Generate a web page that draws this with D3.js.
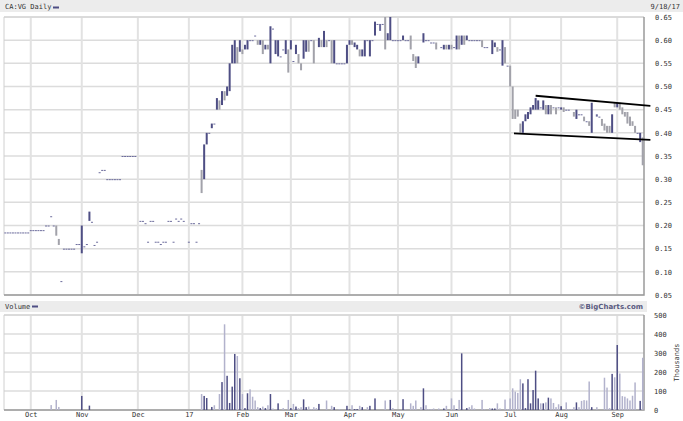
<!DOCTYPE html>
<html>
<head>
<meta charset="utf-8">
<script src="https://cdn.jsdelivr.net/npm/d3@7"></script>
<style>
  body { margin: 0; background: #fff; }
  text { font-family: "DejaVu Sans Mono", monospace; font-size: 7px; fill: #333; }
</style>
</head>
<body>
<script>
// month ticks, in trading-day index (day 0 = 9/19/16, day 250 = 9/18/17)
var monthLabels = ["Oct", "Nov", "Dec", "17", "Feb", "Mar", "Apr", "May", "Jun", "Jul", "Aug", "Sep"];
var monthDays = [10, 30, 52, 72, 93, 112, 135, 154, 175, 198, 218, 240];

var priceTicks = [0.05, 0.10, 0.15, 0.20, 0.25, 0.30, 0.35, 0.40, 0.45, 0.50, 0.55, 0.60, 0.65];
var volumeTicks = [0, 100, 200, 300, 400, 500];

// [day, open, high, low, close]  or [day, price] when the day traded flat
var ohlc = [
  [0, .185], [1, .185], [2, .185], [3, .185], [4, .185], [5, .185], [6, .185], [7, .185], [8, .185], [9, .185],
  [10, .19], [11, .19], [12, .19], [13, .19], [14, .19], [15, .19],
  [16, .20], [17, .20], [18, .22], [19, .20],
  [20, .20, .20, .178, .178], [21, .171, .171, .158, .158], [22, .08],
  [23, .15], [24, .15], [25, .15], [26, .15], [27, .15],
  [28, .16], [29, .16], [30, .16, .20, .14, .20], [31, .155], [32, .16],
  [33, .21, .23, .21, .23], [34, .208], [35, .158], [36, .165],
  [37, .315], [38, .32], [39, .32], [40, .30], [41, .30], [42, .30], [43, .30], [44, .30], [45, .30],
  [46, .35], [47, .35], [48, .35], [49, .35], [50, .35], [51, .35],
  [53, .21], [54, .21], [55, .205], [56, .165], [57, .21], [58, .21], [59, .165], [60, .165], [61, .16],
  [62, .165], [63, .165], [64, .21], [65, .21], [66, .165], [67, .215], [68, .21], [69, .215], [70, .21],
  [72, .165], [73, .205], [74, .205], [75, .165], [76, .205],
  [77, .32, .32, .27, .28], [78, .30, .375, .30, .37], [79, .375, .40, .375, .40], [80, .40],
  [81, .41, .42, .41, .42], [82, .42],
  [83, .45, .475, .45, .47], [84, .46, .47, .45, .455], [85, .46, .49, .46, .49], [86, .49, .49, .47, .48],
  [87, .48, .50, .48, .50], [88, .50, .55, .49, .55], [89, .55, .59, .55, .58], [90, .58, .60, .55, .59],
  [91, .585, .585, .55, .555], [92, .575, .60, .575, .60], [93, .58, .58, .57, .575], [94, .58, .59, .58, .59],
  [95, .59, .60, .58, .60], [96, .60], [97, .60], [98, .61], [99, .60, .60, .59, .59], [100, .59, .60, .59, .60],
  [101, .60, .60, .57, .57], [102, .58, .59, .58, .59], [103, .59, .59, .58, .58], [104, .56, .63, .55, .62],
  [105, .625], [106, .57, .60, .57, .60], [107, .57, .60, .565, .58], [108, .565], [109, .58],
  [110, .57, .60, .57, .60], [111, .58, .58, .53, .54], [112, .58, .60, .58, .60], [113, .555],
  [114, .57, .59, .57, .59], [115, .57, .57, .55, .55], [116, .55, .55, .535, .54], [117, .56, .60, .56, .60],
  [118, .575, .60, .575, .60], [119, .60, .60, .575, .58], [120, .60], [121, .60, .60, .55, .55],
  [123, .585, .605, .585, .60], [124, .60, .60, .585, .59], [125, .585, .62, .585, .615], [126, .60, .60, .585, .59],
  [127, .60], [128, .60, .60, .55, .56], [129, .55, .60, .55, .60], [130, .55], [131, .55], [132, .55], [133, .55],
  [134, .55, .59, .55, .59], [135, .595, .60, .59, .60], [136, .60, .60, .59, .595], [137, .585, .595, .585, .59],
  [138, .58, .59, .58, .59], [139, .58, .58, .565, .565], [140, .565, .58, .565, .575], [141, .565, .60, .565, .60],
  [142, .60], [143, .565, .60, .565, .60], [144, .60], [145, .61, .64, .61, .64], [146, .635],
  [147, .63, .635, .62, .63], [148, .635], [149, .65, .65, .58, .59], [150, .60, .615, .60, .61],
  [151, .60, .65, .60, .64], [152, .60], [153, .60], [154, .60], [155, .60], [156, .60, .61, .60, .61],
  [157, .60], [158, .60], [159, .61, .61, .58, .585], [160, .57, .57, .555, .56], [161, .565, .565, .54, .545],
  [162, .55, .565, .55, .565], [164, .595, .615, .595, .615], [165, .60], [166, .60], [167, .595], [168, .595],
  [169, .595, .595, .58, .58], [171, .585], [172, .58, .59, .58, .59], [173, .59, .59, .58, .58],
  [174, .58, .59, .58, .585], [175, .59, .59, .58, .58], [176, .585], [177, .58, .61, .58, .61],
  [178, .61, .61, .58, .59], [179, .59, .61, .59, .605], [180, .61, .61, .59, .60], [181, .60, .61, .60, .61],
  [182, .60], [183, .60], [184, .60], [185, .60], [186, .60], [187, .60, .60, .585, .59], [188, .585], [189, .585],
  [191, .57, .60, .57, .60], [192, .585, .595, .585, .59], [193, .585, .585, .575, .575], [194, .58],
  [195, .55, .60, .545, .595], [196, .585, .585, .55, .55], [197, .545], [198, .545, .545, .50, .50],
  [199, .50, .50, .43, .43], [200, .45, .45, .43, .435], [201, .45, .45, .435, .44], [202, .42, .42, .40, .40],
  [203, .40, .425, .40, .42], [204, .425, .44, .425, .44], [205, .43, .445, .43, .445], [206, .44, .455, .44, .455],
  [207, .45, .46, .45, .46], [208, .45, .475, .45, .47], [209, .45, .47, .45, .465], [210, .455],
  [211, .45, .47, .45, .47], [212, .46, .46, .44, .445], [213, .44, .46, .44, .455], [214, .455, .46, .44, .45],
  [215, .455], [216, .455, .455, .44, .45], [217, .455], [218, .45, .455, .45, .455], [219, .455, .455, .445, .45],
  [220, .45], [221, .45], [223, .445, .445, .435, .435], [224, .43, .45, .43, .45], [225, .44], [226, .44],
  [227, .435, .435, .425, .425], [228, .425], [229, .425, .425, .415, .415], [230, .40, .465, .40, .46],
  [232, .44, .44, .435, .44], [233, .435], [234, .43, .43, .415, .415], [235, .42, .42, .405, .405],
  [236, .415, .415, .40, .40], [237, .41, .415, .40, .40], [238, .40, .44, .40, .44], [239, .46, .465, .455, .455],
  [240, .455, .465, .455, .465], [241, .465, .465, .45, .45], [242, .455, .455, .44, .44], [243, .445, .445, .435, .44],
  [244, .445, .445, .42, .42], [245, .435, .435, .415, .415], [246, .425, .425, .415, .415], [247, .415, .415, .40, .40],
  [248, .40], [249, .38, .40, .38, .40], [250, .39, .39, .33, .33]
];

// [day, volume in thousands]
var volume = [
  [18, 26], [20, 53], [21, 16], [30, 74], [33, 23],
  [77, 84], [78, 74], [79, 63], [81, 16], [82, 25], [84, 84], [85, 147], [86, 451], [87, 180], [88, 37],
  [89, 123], [90, 295], [91, 284], [92, 167], [93, 84], [94, 10], [95, 88], [96, 109], [97, 70], [98, 50],
  [99, 15], [100, 10], [101, 18], [102, 10], [103, 25], [104, 84], [105, 8], [107, 35], [109, 10], [111, 53],
  [112, 10], [113, 32], [114, 18], [115, 10], [116, 15], [117, 56], [118, 15], [119, 18], [120, 5], [121, 15],
  [122, 10], [123, 32], [126, 50], [128, 22], [129, 15], [131, 5], [134, 22], [135, 3], [136, 25], [137, 5],
  [138, 5], [139, 22], [140, 15], [142, 15], [143, 22], [145, 61], [149, 50], [151, 53], [152, 10], [156, 57],
  [157, 5], [159, 35], [160, 22], [161, 50], [163, 15], [164, 114], [165, 25], [166, 5], [167, 5], [168, 8],
  [170, 8], [172, 8], [173, 22], [175, 61], [176, 25], [177, 5], [178, 53], [179, 298], [180, 5], [181, 10],
  [182, 15], [183, 25], [184, 8], [187, 53], [188, 5], [190, 10], [191, 8], [192, 8], [193, 35], [194, 8],
  [196, 55], [197, 5], [198, 61], [199, 114], [200, 97], [201, 90], [202, 162], [203, 140], [204, 10],
  [205, 162], [206, 35], [207, 105], [208, 207], [209, 61], [210, 35], [211, 35], [212, 40], [213, 65],
  [214, 61], [215, 37], [216, 15], [217, 30], [218, 20], [220, 40], [221, 5], [222, 5], [223, 15], [224, 40],
  [225, 15], [226, 48], [227, 52], [228, 50], [229, 150], [230, 15], [232, 15], [235, 170], [236, 118],
  [237, 10], [238, 190], [239, 172], [240, 342], [241, 192], [242, 73], [243, 70], [244, 61], [245, 50],
  [246, 75], [247, 145], [249, 48], [250, 275]
];

// hand drawn trend channel [day, price]
var channelTop = [[208, 0.48], [253, 0.458]];
var channelBottom = [[199.5, 0.399], [253, 0.385]];

var width = 683, height = 421,
    left = 4, right = 644,
    pTop = 17, pBot = 295,
    vTop = 315, vBot = 410;

var navy = "#4e4e84", lilac = "#b2b2cc", grey = "#a2a2aa";

var svg = d3.select("body").append("svg")
    .attr("width", width)
    .attr("height", height);

var x = d3.scaleLinear().domain([-0.5, 250.5]).range([left, right]);
var y = d3.scaleLinear().domain([0.05, 0.65]).range([pBot, pTop]);
var yv = d3.scaleLinear().domain([0, 500]).range([vBot, vTop]);

var bars = ohlc.map(function(r) {
    if (r.length == 2) return { d: r[0], o: r[1], h: r[1], l: r[1], c: r[1] };
    return { d: r[0], o: r[1], h: r[2], l: r[3], c: r[4] };
});
var byDay = {};
bars.forEach(function(b) { byDay[b.d] = b; });

// title bands
svg.append("rect").attr("x", 0).attr("y", 0).attr("width", width).attr("height", 12).attr("fill", "#ececec");
svg.append("text").attr("x", 5).attr("y", 9).text("CA:VG Daily");
svg.append("rect").attr("x", 53).attr("y", 6.5).attr("width", 6).attr("height", 2).attr("fill", navy);
svg.append("text").attr("x", 680).attr("y", 9).attr("text-anchor", "end").text("9/18/17");

svg.append("rect").attr("x", 0).attr("y", 301).attr("width", 647).attr("height", 11).attr("fill", "#ececec");
svg.append("text").attr("x", 5).attr("y", 309).text("Volume");
svg.append("rect").attr("x", 32).attr("y", 305.5).attr("width", 6).attr("height", 2).attr("fill", navy);
svg.append("text").attr("x", 643).attr("y", 309).attr("text-anchor", "end")
    .style("font-family", "'DejaVu Sans', sans-serif").style("font-weight", "bold")
    .style("fill", "#5a5a80").text("\u00a9BigCharts.com");

// grids
var grid = svg.append("g");
grid.selectAll(".hp").data(priceTicks).enter().append("line")
    .attr("x1", left).attr("x2", right)
    .attr("y1", function(d) { return y(d); }).attr("y2", function(d) { return y(d); })
    .attr("stroke", "#dcdcdc").attr("stroke-width", 1.5);
grid.selectAll(".hv").data(volumeTicks).enter().append("line")
    .attr("x1", left).attr("x2", right)
    .attr("y1", function(d) { return yv(d); }).attr("y2", function(d) { return yv(d); })
    .attr("stroke", "#dcdcdc").attr("stroke-width", 1.5);
[[pTop, pBot], [vTop, vBot]].forEach(function(span) {
    grid.selectAll(null).data(monthDays).enter().append("line")
        .attr("x1", function(d) { return x(d); }).attr("x2", function(d) { return x(d); })
        .attr("y1", span[0]).attr("y2", span[1])
        .attr("stroke", "#e2e2e2").attr("stroke-width", 2);
});

// frames
[[pTop, pBot], [vTop, vBot]].forEach(function(span) {
    svg.append("path")
        .attr("d", "M" + left + "," + span[1] + "V" + span[0] + "H" + right)
        .attr("fill", "none").attr("stroke", "#d0d0d0");
    svg.append("path")
        .attr("d", "M" + left + "," + span[1] + "H" + right + "V" + span[0])
        .attr("fill", "none").attr("stroke", "#9a9a9a").attr("stroke-width", 1.5);
});

// price bars
svg.append("g").selectAll("rect").data(bars).enter().append("rect")
    .attr("x", function(d) { return x(d.d) - 1; })
    .attr("y", function(d) { return y(d.h); })
    .attr("width", 2)
    .attr("height", function(d) { return Math.max(1, y(d.l) - y(d.h)); })
    .attr("fill", function(d) { return d.c > d.o ? navy : d.c < d.o ? grey : "#6c6c9c"; });

// channel
var line = d3.line().x(function(d) { return x(d[0]); }).y(function(d) { return y(d[1]); });
[channelTop, channelBottom].forEach(function(c) {
    svg.append("path").attr("d", line(c)).attr("fill", "none").attr("stroke", "#000").attr("stroke-width", 1.8);
});

// volume bars
svg.append("g").selectAll("rect").data(volume).enter().append("rect")
    .attr("x", function(d) { return x(d[0]) - 0.75; })
    .attr("y", function(d) { return yv(d[1]); })
    .attr("width", 1.5)
    .attr("height", function(d) { return vBot - yv(d[1]); })
    .attr("fill", function(d) { var b = byDay[d[0]]; return b && b.c > b.o ? navy : lilac; });

// axes
var pAxis = svg.append("g").attr("transform", "translate(652,0)")
    .call(d3.axisRight(y).tickValues(priceTicks).tickFormat(d3.format(".2f")).tickSize(0).tickPadding(3));
var vAxis = svg.append("g").attr("transform", "translate(651,0)")
    .call(d3.axisRight(yv).tickValues(volumeTicks).tickFormat(d3.format("d")).tickSize(0).tickPadding(3));
var mAxis = svg.append("g").attr("transform", "translate(0," + vBot + ")")
    .call(d3.axisBottom(x).tickValues(monthDays).tickFormat(function(d, i) { return monthLabels[i]; }).tickSize(0).tickPadding(2.5));
[pAxis, vAxis, mAxis].forEach(function(a) {
    a.select(".domain").remove();
    a.selectAll("text").attr("font-family", null).attr("font-size", null).attr("fill", null);
});

svg.append("text")
    .attr("transform", "translate(679," + ((vTop + vBot) / 2) + ") rotate(-90)")
    .attr("text-anchor", "middle")
    .text("Thousands");
</script>
</body>
</html>
